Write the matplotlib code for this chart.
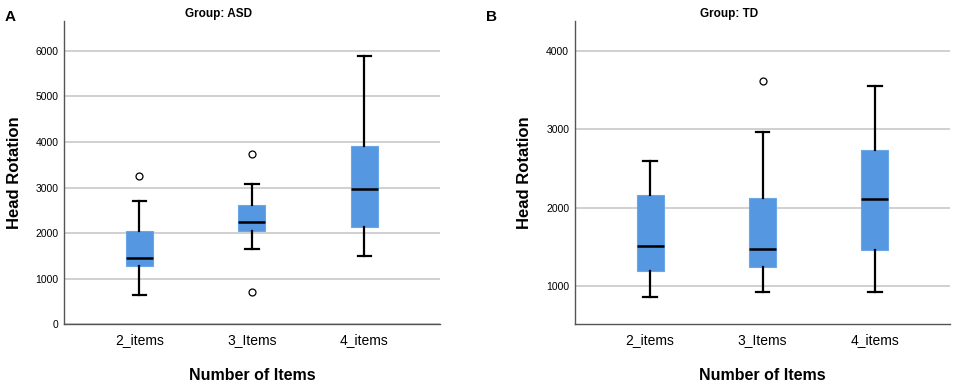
import matplotlib.pyplot as plt

plt.rcParams['font.family'] = ['Liberation Sans', 'DejaVu Sans']

categories = ["2_items", "3_Items", "4_items"]

# ASD group: whisker low, Q1, median, Q3, whisker high, outliers
asd_low = [640, 1650, 1500]
asd_q1 = [1285, 2040, 2130]
asd_med = [1460, 2255, 2965]
asd_q3 = [2045, 2625, 3910]
asd_high = [2700, 3075, 5890]
asd_out = [[3260], [3730, 710], []]

# TD group
td_low = [860, 920, 920]
td_q1 = [1185, 1245, 1455]
td_med = [1515, 1465, 2115]
td_q3 = [2160, 2125, 2740]
td_high = [2590, 2965, 3555]
td_out = [[], [3615], []]

box_color = "#5597e0"


def make_stats(low, q1, med, q3, high, out):
    stats = []
    for i, name in enumerate(categories):
        stats.append(dict(label=name, whislo=low[i], q1=q1[i], med=med[i],
                          q3=q3[i], whishi=high[i], fliers=out[i]))
    return stats


fig, axes = plt.subplots(1, 2, figsize=(9.57, 3.84), dpi=100)
fig.subplots_adjust(left=0.067, right=0.993, top=0.945, bottom=0.155, wspace=0.36)

panels = [
    (axes[0], make_stats(asd_low, asd_q1, asd_med, asd_q3, asd_high, asd_out),
     "Group: ASD", "A", (0, 6650), [0, 1000, 2000, 3000, 4000, 5000, 6000]),
    (axes[1], make_stats(td_low, td_q1, td_med, td_q3, td_high, td_out),
     "Group: TD", "B", (505, 4385), [1000, 2000, 3000, 4000]),
]

for ax, stats, title, letter, ylim, yticks in panels:
    ax.bxp(stats, positions=range(len(categories)), widths=0.24, patch_artist=True,
           boxprops=dict(facecolor=box_color, edgecolor="#6aa6e8", linewidth=0.8),
           medianprops=dict(color="black", linewidth=1.8),
           whiskerprops=dict(color="black", linewidth=1.6),
           capprops=dict(color="black", linewidth=1.6),
           capwidths=0.12,
           flierprops=dict(marker="o", markerfacecolor="white", markeredgecolor="black",
                           markersize=5, markeredgewidth=0.9))
    ax.set_xlim(-0.67, 2.67)
    ax.set_ylim(*ylim)
    ax.set_yticks(yticks)
    ax.yaxis.grid(True, color="#c8c8c8", linewidth=1.2)
    ax.set_axisbelow(True)
    for s in ["top", "right"]:
        ax.spines[s].set_visible(False)
    for s in ["left", "bottom"]:
        ax.spines[s].set_color("#555555")
        ax.spines[s].set_linewidth(1.0)
    ax.tick_params(axis="both", length=0)
    ax.tick_params(axis="y", labelsize=7.5, pad=4)
    ax.tick_params(axis="x", labelsize=10, pad=6.5)
    ax.set_xticks(range(len(categories)))
    ax.set_xticklabels(categories)
    ax.set_ylabel("Head Rotation", fontsize=12, fontweight="bold", labelpad=10)
    ax.set_xlabel("Number of Items", fontsize=11.5, fontweight="bold", labelpad=14.5)
    ax.set_title(title, fontsize=8.5, fontweight="bold", x=0.41, pad=3)

fig.text(0.005, 0.975, "A", fontsize=11, fontweight="bold", va="top")
fig.text(0.508, 0.975, "B", fontsize=11, fontweight="bold", va="top")

fig.savefig("out.png", dpi=100)
